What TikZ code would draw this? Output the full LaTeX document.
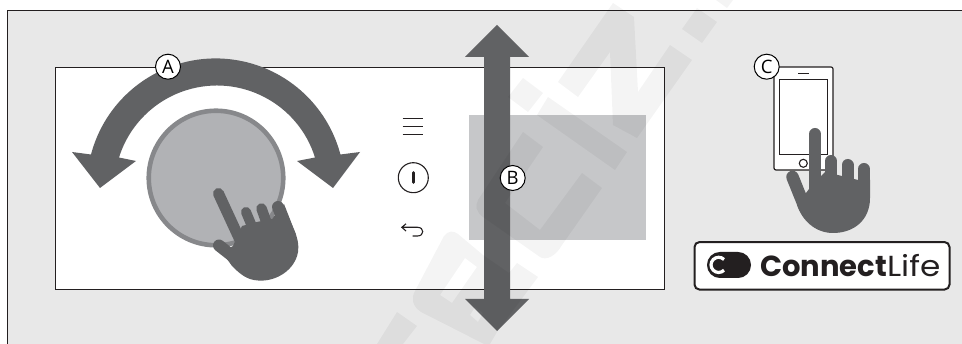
\documentclass[tikz,border=0pt]{standalone}
\usepackage{fontspec}
\setmainfont{Open Sans}
\newfontfamily\logofont{Poppins}
\definecolor{bgg}{HTML}{E8E8E8}
\definecolor{dk}{HTML}{616264}
\definecolor{knob}{HTML}{B1B2B5}
\definecolor{ring}{HTML}{87888B}
\definecolor{scr}{HTML}{C6C7C9}
\definecolor{lk}{HTML}{231F20}
\tikzset{
  x=1pt,y=-1pt,
  badge/.style={circle,draw=black,fill=white,line width=1pt,minimum size=25pt,inner sep=0pt,font=\fontsize{18.5}{18.5}\selectfont},
  handfill/.style={fill=dk,draw=none},
  finger/.style={draw=dk,line cap=round},
  wmark/.style={fill=black,draw=none,opacity=.045},
}
\begin{document}
\begin{tikzpicture}
\useasboundingbox (0,0) rectangle (962,344);
\fill[white] (0,0) rectangle (962,344);
\fill[bgg] (8,11) rectangle (962,344);
\draw[lk,line width=1.5pt] (962,10.5) -- (7.5,10.5) -- (7.5,344);
% panel
\fill[white] (55.5,67.5) rectangle (664.5,289.5);
\draw[lk,line width=1.2pt] (55.5,67.5) rectangle (664.5,289.5);
% screen
\fill[scr] (469,115) rectangle (646,240);
% knob
\node (knob) [circle,fill=knob,draw=ring,line width=4.6pt,minimum size=134.5pt,inner sep=0pt] at (216,178) {};
% arc arrow A
\fill[dk] (72,152) -- (91,154.5) arc[start angle=194.8,end angle=345.2,radius=129] -- (360,152) -- (333,188) -- (297,161) -- (315,157.5)
  arc[start angle=342.6,end angle=197.4,radius=102.7] -- (136,161) -- (100,188) -- cycle;
% hand on knob
\draw[finger,line width=11pt] (218.5,193.5) -- (240,240);
\draw[finger,line width=10pt] (246,212) -- (256,236);
\draw[finger,line width=10.5pt] (261.5,208.5) -- (271,235);
\draw[finger,line width=12pt] (278,207) -- (290,236);
\draw[finger,line width=12pt] (219,245.5) -- (240,262);
\fill[handfill] (233,246) -- (242,226) -- (257,222) -- (272,219) -- (284,204) -- (293,227)
  .. controls (298,238) and (299,246) .. (298,252)
  .. controls (295,270) and (276,282) .. (258,280.5)
  .. controls (247,280) and (240,274) .. (232,266) -- (222,252) -- cycle;
% B arrow
\fill[dk] (497,25) -- (529,57) -- (510,57) -- (510,299) -- (529,299) -- (497,331) -- (465,299) -- (484,299) -- (484,57) -- (465,57) -- cycle;
% controls
\draw[lk,line width=.9pt] (402.5,118.5) -- (423,118.5) (402.5,126.5) -- (423,126.5) (402.5,134.5) -- (423,134.5);
\node (pw) [circle,draw=lk,line width=1.1pt,minimum size=30pt,inner sep=0pt] at (413.3,177.7) {};
\draw[lk,line width=2.6pt,line cap=round] (413.3,172.5) -- (413.3,182.5);
\draw[lk,line width=1.1pt] (406,223.8) -- (401.8,227.3) -- (406,231) (401.8,227.3) -- (417.5,227.3)
  .. controls (424.5,227.3) and (424.5,236) .. (417.5,236) -- (412.5,236);
% phone
\fill[white,draw=lk,line width=1.2pt,rounded corners=2pt] (774,67) rectangle (833,170);
\fill[white,draw=lk,line width=1.1pt] (779.5,79.5) rectangle (827.5,154.5);
\draw[lk,line width=1pt] (798,74) -- (809,74);
\node (homebtn) [circle,draw=lk,line width=1.1pt,minimum size=8pt,inner sep=0pt] at (803.3,163.3) {};
% hand phone
\draw[finger,line width=12pt] (815,134) -- (815,195);
\draw[finger,line width=12pt] (831,161) -- (831,195);
\draw[finger,line width=12pt] (847.5,165) -- (847.5,195);
\draw[finger,line width=12pt] (864,169) -- (864,200);
\draw[finger,line width=12.5pt] (792.5,177) -- (803,203);
\fill[handfill] (809,189) -- (825,172) -- (842,176) -- (858,180) -- (870,180) -- (870,198)
  .. controls (870,220) and (854,233) .. (833,233)
  .. controls (815,233) and (802,220) .. (797,205) -- cycle;
% watermark
\fill[wmark] (558,82) -- (613,3) -- (634,17) -- (638,92) -- (670,45) -- (692,60) -- (637,138) -- (613,125) -- (610,52) -- (578,97) -- cycle;
\fill[wmark] (682,29) -- (702,43) -- (717,22) -- (697,8) -- cycle;
\fill[wmark] (716,0) -- (733,0) -- (727,8) -- cycle;
\fill[wmark] (548,97) -- (627,152) -- (615,170) -- (537,115) -- cycle;
\fill[wmark] (523,78) -- (543,93) -- (528,112) -- (508,97) -- cycle;
\fill[wmark] (523,132) -- (543,147) -- (505,203) -- (540,230) -- (582,173) -- (602,188) -- (562,245)
  .. controls (556,256) and (546,261) .. (540,257) -- (483,217) .. controls (476,212) and (475,206) .. (478,200) -- cycle;
\fill[wmark] (397,312) -- (417,326) -- (403,344) -- (377,344) -- cycle;
\fill[wmark,even odd rule] (444,236) .. controls (448,231) and (453,230) .. (458,234) -- (483,255) -- (509,273) -- (517,263) -- (538,277) -- (497,332) -- (490,344) -- (484,344) -- (421,312)
  .. controls (412,306) and (411,298) .. (415,291) -- cycle
  (465,258) -- (477,267) -- (452,303) -- (440,295) -- cycle
  (470,315) -- (478,322) -- (483,313) -- (475,307) -- cycle;
% badges
\node (a) [badge] at (168,66.7) {A};
\node (b) [badge] at (512.7,178) {B};
\node (c) [badge] at (766.7,66.7) {C};
% logo
\node (logobox) [draw=lk,fill=white,line width=2pt,rounded corners=5pt,minimum width=255pt,minimum height=47.5pt,inner sep=0pt] at (822,265.8) {};
\fill[lk,rounded corners=12.9pt] (707,252) rectangle (751,278);
\draw[white,line width=3.2pt] (724,259.5) arc[start angle=-45,end angle=-315,radius=7.6];
\node (logot) [anchor=west,inner sep=0pt,text=lk,font=\logofont\fontsize{29}{29}\selectfont] at (760,265.5) {\textbf{Connect}\scalebox{1.13}[1]{Life}};
\end{tikzpicture}
\end{document}
